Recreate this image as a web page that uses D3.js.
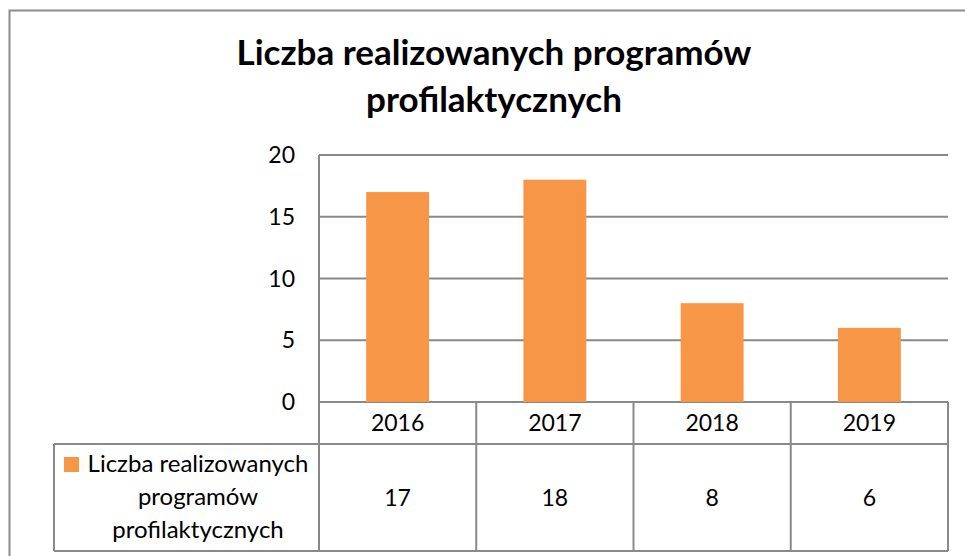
<!DOCTYPE html>
<html>
<head>
<meta charset="utf-8">
<script src="https://cdn.jsdelivr.net/npm/d3@7"></script>
<style>
    body { margin: 0; background: #fff; }
    svg text { font-family: Lato, "Open Sans", sans-serif; fill: #000; }
</style>
</head>
<body>
<svg id="chart" width="965" height="556"></svg>
<script>
// chart data
const years = ["2016", "2017", "2018", "2019"];
const values = [17, 18, 8, 6];
const yTicks = [0, 5, 10, 15, 20];
const seriesName = ["Liczba realizowanych", "programów", "profilaktycznych"];
const titleLines = ["Liczba realizowanych programów", "profilaktycznych"];

var svg = d3.select("#chart");

var plot = { left: 319, right: 948, top: 155, bottom: 402 },
    headerBottom = 444,
    tableBottom = 551,
    legendLeft = 54,
    gridColor = "#898989",
    barColor = "#F79646";

// outer chart frame (right and bottom edges are cut off in the picture)
svg.append("rect")
    .attr("x", 9.5).attr("y", 10.5)
    .attr("width", 1000).attr("height", 600)
    .attr("fill", "none")
    .attr("stroke", "#8c8c8c")
    .attr("stroke-width", 2);

// title
svg.append("text")
    .selectAll("tspan")
    .data(titleLines)
    .enter()
    .append("tspan")
    .attr("x", 494)
    .attr("y", (d, i) => 65 + i * 47)
    .attr("text-anchor", "middle")
    .style("font-size", "35px")
    .style("font-weight", "bold")
    .text(d => d);

var x = d3.scaleBand()
    .domain(years)
    .range([plot.left, plot.right])
    .padding(0);

var y = d3.scaleLinear()
    .domain([0, 20])
    .range([plot.bottom, plot.top]);

// gridlines
svg.append("g")
    .selectAll("line")
    .data(yTicks)
    .enter()
    .append("line")
    .attr("x1", plot.left).attr("x2", plot.right)
    .attr("y1", d => y(d)).attr("y2", d => y(d))
    .attr("stroke", gridColor)
    .attr("stroke-width", 2);

// y axis line
svg.append("line")
    .attr("x1", plot.left).attr("x2", plot.left)
    .attr("y1", plot.top).attr("y2", plot.bottom)
    .attr("stroke", gridColor)
    .attr("stroke-width", 2);

// y tick labels
svg.append("g")
    .selectAll("text")
    .data(yTicks)
    .enter()
    .append("text")
    .attr("x", 295)
    .attr("y", d => y(d))
    .attr("dy", "0.35em")
    .attr("text-anchor", "end")
    .style("font-size", "23px")
    .text(d => d);

// bars
var barW = x.bandwidth() * 0.4;
svg.append("g")
    .selectAll("rect")
    .data(values)
    .enter()
    .append("rect")
    .attr("x", (d, i) => x(years[i]) + (x.bandwidth() - barW) / 2)
    .attr("y", d => y(d))
    .attr("width", barW)
    .attr("height", d => y(0) - y(d))
    .attr("fill", barColor);

// data table
var table = svg.append("g")
    .attr("stroke", gridColor)
    .attr("stroke-width", 2)
    .attr("fill", "none");

table.append("line")
    .attr("x1", legendLeft).attr("x2", plot.right)
    .attr("y1", headerBottom).attr("y2", headerBottom);
table.append("line")
    .attr("x1", legendLeft).attr("x2", plot.right)
    .attr("y1", tableBottom).attr("y2", tableBottom);
table.append("line")
    .attr("x1", legendLeft).attr("x2", legendLeft)
    .attr("y1", headerBottom).attr("y2", tableBottom);

table.selectAll("line.col")
    .data(years.concat(["end"]))
    .enter()
    .append("line")
    .attr("class", "col")
    .attr("x1", d => d === "end" ? plot.right : x(d))
    .attr("x2", d => d === "end" ? plot.right : x(d))
    .attr("y1", plot.bottom).attr("y2", tableBottom);

// year headers
svg.append("g")
    .selectAll("text")
    .data(years)
    .enter()
    .append("text")
    .attr("x", d => x(d) + x.bandwidth() / 2)
    .attr("y", (plot.bottom + headerBottom) / 2)
    .attr("dy", "0.35em")
    .attr("text-anchor", "middle")
    .style("font-size", "23px")
    .text(d => d);

// values row
svg.append("g")
    .selectAll("text")
    .data(values)
    .enter()
    .append("text")
    .attr("x", (d, i) => x(years[i]) + x.bandwidth() / 2)
    .attr("y", (headerBottom + tableBottom) / 2)
    .attr("dy", "0.35em")
    .attr("text-anchor", "middle")
    .style("font-size", "23px")
    .text(d => d);

// legend key + series name
svg.append("rect")
    .attr("x", 64).attr("y", 457)
    .attr("width", 15).attr("height", 15)
    .attr("fill", barColor);

svg.append("text")
    .selectAll("tspan")
    .data(seriesName)
    .enter()
    .append("tspan")
    .attr("x", 198)
    .attr("y", (d, i) => 464 + i * 33)
    .attr("dy", "0.35em")
    .attr("text-anchor", "middle")
    .style("font-size", "24px")
    .text(d => d);
</script>
</body>
</html>
